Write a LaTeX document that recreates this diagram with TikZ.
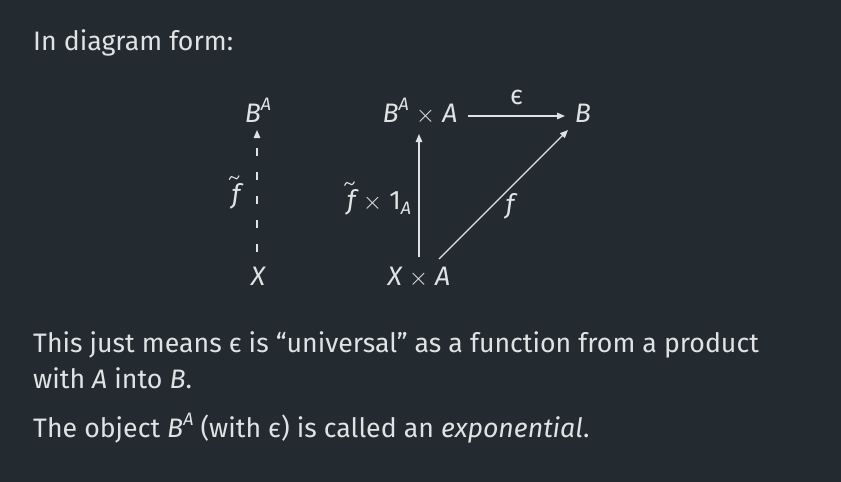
\documentclass[tikz,border=0pt]{standalone}
\usepackage{fontspec}
\setmainfont{Fira Sans}
\usetikzlibrary{arrows.meta,calc}
\definecolor{bg}{HTML}{232A30}
\definecolor{fg}{HTML}{E0E3E3}
\newcommand{\supA}{\raisebox{0.42em}{\fontsize{18}{18}\selectfont\itshape A}}
\newcommand{\subA}{\raisebox{-0.22em}{\fontsize{18}{18}\selectfont\itshape A}}
\newcommand{\tms}{\ensuremath{\times}}
\newcommand{\eps}{ϵ}
\begin{document}
\begin{tikzpicture}[x=1pt,y=-1pt,
  every node/.style={text=fg,font=\fontsize{26.7}{36}\selectfont,inner sep=0pt},
  txt/.style={anchor=base west},
  obj/.style={anchor=base},
  arr/.style={draw=fg,line width=1.4pt,-{Triangle[length=8pt,width=6.5pt]}},
  dsh/.style={arr,dash pattern=on 8pt off 16pt},
  tld/.pic={\draw[fg,line width=1.1pt,line cap=round] (0,0) .. controls (1.2,-3.4) and (3,-3.6) .. (4.6,-1.8) .. controls (6.2,0) and (8,0) .. (9.5,-3.6);}]
\fill[bg] (0,0) rectangle (841,482);
\useasboundingbox (0,0) rectangle (841,482);
\node[txt] (title) at (33,50) {In diagram form:};
% left diagram
\node[obj] (BA) at (258,122) {\itshape B\supA};
\node[obj] (X) at (258,285) {\itshape X};
\coordinate (ltop) at (257,130);
\coordinate (lbot) at (257,252);
\draw[dsh] (lbot) -- (ltop);
\node (ft) at (236,196) {\itshape f};
\pic at ($(ft.north west)+(-2,-3.5)$) {tld};
% right diagram
\node[obj] (BAxA) at (420,122) {\itshape B\supA\upshape\ \tms\ \itshape A};
\node[obj] (B) at (583,122) {\itshape B};
\node[obj] (XxA) at (419,285) {\itshape X \upshape\tms\ \itshape A};
\coordinate (hs) at (468,116);
\coordinate (he) at (565,116);
\draw[arr] (hs) -- node[above=10pt] (epsl) {\eps} (he);
\coordinate (vs) at (419,257);
\coordinate (ve) at (419,134);
\draw[arr] (vs) -- (ve);
\node (fx) at (379,202) {\itshape f\upshape\ \tms\ 1\subA};
\pic at ($(fx.north west)+(-2,-3.5)$) {tld};
\coordinate (ds) at (439,259);
\coordinate (de) at (568,130);
\draw[arr] (ds) -- (de);
\node (fl) at (510,206) {\itshape f};
% bottom text
\node[txt] (l1) at (33,352) {This just means \eps\ is “universal” as a function from a product};
\node[txt] (l2) at (33,388) {with \textit{A} into \textit{B}.};
\node[txt] (l3) at (33,437) {The object \textit{B}\supA\ (with \eps) is called an \textit{exponential}.};
\end{tikzpicture}
\end{document}
